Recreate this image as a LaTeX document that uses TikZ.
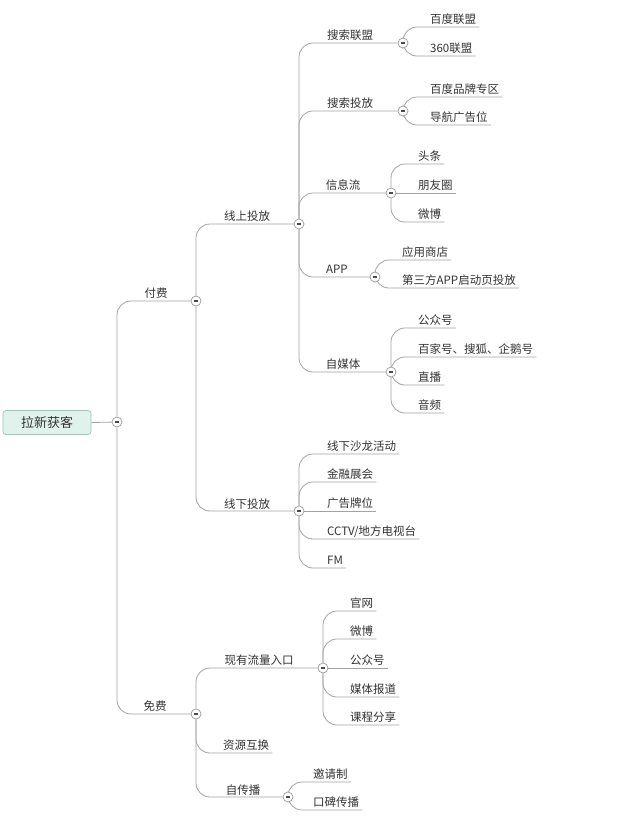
\documentclass[tikz,border=0pt]{standalone}
\usepackage{fontspec}
\setmainfont{Noto Sans CJK SC}
\usetikzlibrary{backgrounds}
\definecolor{linegray}{HTML}{A3A3A3}
\definecolor{togborder}{HTML}{9A9A9A}
\definecolor{minuscol}{HTML}{4A4A4A}
\definecolor{textcol}{HTML}{333333}
\definecolor{rootfill}{HTML}{E1F1EC}
\definecolor{rootdraw}{HTML}{A2C6BA}
\tikzset{
  conn/.style={draw=linegray, line width=0.8pt, rounded corners=14pt},
  flat/.style={draw=linegray, line width=0.8pt},
  tog/.style={circle, draw=togborder, fill=white, line width=0.7pt, minimum size=10pt, inner sep=0pt,
    path picture={\draw[draw=minuscol, line width=1.2pt] ([xshift=-2.4pt]path picture bounding box.center) -- ([xshift=2.4pt]path picture bounding box.center);}},
  lbl/.style={text=textcol, font=\fontsize{11.5}{14}\selectfont, text height=9pt, text depth=0pt, inner sep=0pt},
  leaf/.style={lbl, anchor=south west, inner xsep=3pt, inner ysep=3.5pt},
  rootbox/.style={draw=rootdraw, fill=rootfill, line width=0.8pt, rounded corners=3pt, minimum width=88pt, minimum height=24pt, inner sep=0pt, text=textcol, font=\fontsize{13}{15}\selectfont}
}
\begin{document}
\begin{tikzpicture}[x=1pt, y=-1pt]
\useasboundingbox (0,0) rectangle (640,822);
% root
\node[rootbox] (root) at (47,422.5) {拉新获客};
\node[tog] (c0) at (117,422) {};
% level 1
\node[tog] (cFF) at (196,301) {};
\node[lbl] (tFF) at (156,293) {付费};
\node[tog] (cMF) at (196,714) {};
\node[lbl] (tMF) at (155,706) {免费};
% level 2 (付费)
\node[tog] (cXS) at (299,224) {};
\node[lbl] (tXS) at (247,216) {线上投放};
\node[tog] (cXX) at (299,511) {};
\node[lbl] (tXX) at (247,504) {线下投放};
% level 2 (免费)
\node[tog] (cYL) at (323,668) {};
\node[lbl] (tYL) at (259,660) {现有流量入口};
\node[leaf] (lZY) at (220,753) {资源互换};
\node[tog] (cZC) at (288,797) {};
\node[lbl] (tZC) at (243,790) {自传播};
% level 3 (线上投放)
\node[tog] (cS1) at (403,43) {};
\node[lbl] (tS1) at (350,35) {搜索联盟};
\node[tog] (cS2) at (403,111) {};
\node[lbl] (tS2) at (350,103) {搜索投放};
\node[tog] (cS3) at (391,193) {};
\node[lbl] (tS3) at (343,185) {信息流};
\node[tog] (cS4) at (375,277) {};
\node[lbl] (tS4) at (337,269) {APP};
\node[tog] (cS5) at (391,372) {};
\node[lbl] (tS5) at (343,364) {自媒体};
% leaves of 搜索联盟
\node[leaf] (a1) at (427,27) {百度联盟};
\node[leaf] (a2) at (427,56) {360联盟};
% leaves of 搜索投放
\node[leaf] (a3) at (427,97) {百度品牌专区};
\node[leaf] (a4) at (427,125) {导航广告位};
% leaves of 信息流
\node[leaf] (b1) at (415,164) {头条};
\node[leaf] (b2) at (415,193) {朋友圈};
\node[leaf] (b3) at (415,222) {微博};
% leaves of APP
\node[leaf] (d1) at (399,260) {应用商店};
\node[leaf] (d2) at (399,288) {第三方APP启动页投放};
% leaves of 自媒体
\node[leaf] (e1) at (415,328) {公众号};
\node[leaf] (e2) at (415,357) {百家号、搜狐、企鹅号};
\node[leaf] (e3) at (415,385) {直播};
\node[leaf] (e4) at (415,413) {音频};
% leaves of 线下投放
\node[leaf] (f1) at (324,454) {线下沙龙活动};
\node[leaf] (f2) at (324,482) {金融展会};
\node[leaf] (f3) at (324,511) {广告牌位};
\node[leaf] (f4) at (324,539) {CCTV/地方电视台};
\node[leaf] (f5) at (324,568) {FM};
% leaves of 现有流量入口
\node[leaf] (g1) at (347,611) {官网};
\node[leaf] (g2) at (347,639) {微博};
\node[leaf] (g3) at (347,668) {公众号};
\node[leaf] (g4) at (347,697) {媒体报道};
\node[leaf] (g5) at (347,725) {课程分享};
% leaves of 自传播
\node[leaf] (h1) at (310,782) {邀请制};
\node[leaf] (h2) at (310,810) {口碑传播};
% connectors
\begin{scope}[on background layer]
\fill[white] (0,0) rectangle (640,822);
\draw[flat] (root.east) -- (c0);
\draw[conn] (c0) |- (cFF);
\draw[conn] (c0) |- (cMF);
\draw[conn] (cFF) |- (cXS);
\draw[conn] (cFF) |- (cXX);
\draw[conn] (cXS) |- (cS1);
\draw[conn] (cXS) |- (cS2);
\draw[conn] (cXS) |- (cS3);
\draw[conn] (cXS) |- (cS4);
\draw[conn] (cXS) |- (cS5);
\draw[conn] (cS1) |- (a1.south east);
\draw[conn] (cS1) |- (a2.south east);
\draw[conn] (cS2) |- (a3.south east);
\draw[conn] (cS2) |- (a4.south east);
\draw[conn] (cS3) |- (b1.south east);
\draw[flat] (cS3) -- (b2.south east);
\draw[conn] (cS3) |- (b3.south east);
\draw[conn] (cS4) |- (d1.south east);
\draw[conn] (cS4) |- (d2.south east);
\draw[conn] (cS5) |- (e1.south east);
\draw[conn] (cS5) |- (e2.south east);
\draw[conn] (cS5) |- (e3.south east);
\draw[conn] (cS5) |- (e4.south east);
\draw[conn] (cXX) |- (f1.south east);
\draw[conn] (cXX) |- (f2.south east);
\draw[flat] (cXX) -- (f3.south east);
\draw[conn] (cXX) |- (f4.south east);
\draw[conn] (cXX) |- (f5.south east);
\draw[conn] (cMF) |- (cYL);
\draw[conn] (cMF) |- (lZY.south east);
\draw[conn] (cMF) |- (cZC);
\draw[conn] (cYL) |- (g1.south east);
\draw[conn] (cYL) |- (g2.south east);
\draw[flat] (cYL) -- (g3.south east);
\draw[conn] (cYL) |- (g4.south east);
\draw[conn] (cYL) |- (g5.south east);
\draw[conn] (cZC) |- (h1.south east);
\draw[conn] (cZC) |- (h2.south east);
\end{scope}
\end{tikzpicture}
\end{document}
